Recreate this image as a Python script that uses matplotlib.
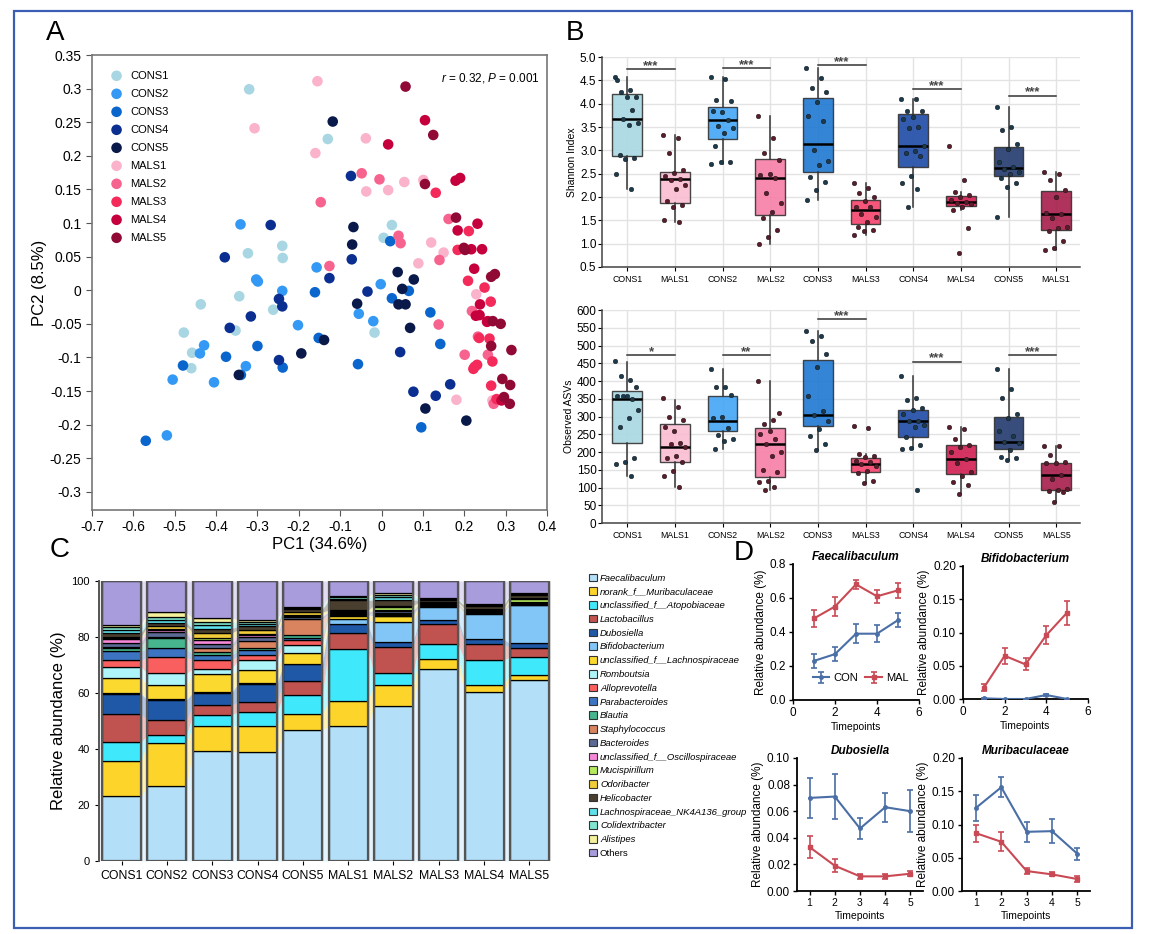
import numpy as np
import matplotlib
matplotlib.use('Agg')
import matplotlib.pyplot as plt
from matplotlib.patches import Patch, Rectangle

plt.rcParams['font.family'] = ['Liberation Sans', 'DejaVu Sans']
plt.rcParams['mathtext.fontset'] = 'custom'
plt.rcParams['mathtext.it'] = 'Liberation Sans:italic'
plt.rcParams['mathtext.rm'] = 'Liberation Sans'

# ---------------- Panel A: PCoA ----------------
pc_groups = ['CONS1', 'CONS2', 'CONS3', 'CONS4', 'CONS5',
             'MALS1', 'MALS2', 'MALS3', 'MALS4', 'MALS5']
pc_colors = ['#a8d6e2', '#3399f5', '#0a66cc', '#0b2f90', '#08194a',
             '#fbb3cb', '#f7638f', '#f42a5a', '#c6003c', '#900a35']
pc1 = [
    [-0.32, -0.13, -0.24, -0.239, -0.323, -0.344, -0.437, -0.262, -0.353, -0.478, -0.458, -0.46, 0.025, 0.005, -0.017],
    [-0.341, -0.303, -0.299, -0.24, -0.157, -0.202, -0.429, -0.439, -0.505, -0.405, -0.519, -0.328, -0.055, -0.02, -0.002],
    [-0.57, -0.48, -0.376, -0.3, -0.239, -0.161, -0.152, -0.057, 0.021, 0.025, 0.066, 0.118, 0.142, 0.096, -0.34],
    [-0.379, -0.268, -0.248, -0.24, -0.316, -0.367, -0.248, -0.126, -0.074, -0.072, -0.034, 0.045, 0.077, 0.131, 0.166],
    [-0.118, -0.068, -0.071, -0.059, 0.039, 0.078, 0.05, 0.041, 0.058, 0.069, -0.194, -0.139, -0.345, 0.106, 0.205],
    [-0.155, -0.307, -0.16, -0.038, -0.037, 0.016, 0.055, 0.101, 0.12, 0.15, 0.089, 0.229, 0.181, 0.268, 0.218],
    [-0.048, -0.005, -0.147, -0.126, 0.041, 0.046, 0.14, 0.162, 0.138, 0.201, 0.271, 0.233, 0.257, 0.219],
    [0.131, 0.211, 0.184, 0.209, 0.249, 0.264, 0.236, 0.261, 0.225, 0.231, 0.268, 0.265, 0.278, 0.222],
    [0.105, 0.016, 0.179, 0.19, 0.184, 0.232, 0.243, 0.217, 0.224, 0.237, 0.255, 0.29, 0.228, 0.238, 0.257],
    [0.058, 0.125, 0.105, 0.18, 0.199, 0.202, 0.274, 0.265, 0.269, 0.288, 0.265, 0.314, 0.292, 0.311, 0.296, 0.31],
]
pc2 = [
    [0.299, 0.225, 0.066, 0.048, 0.055, -0.009, -0.021, -0.029, -0.06, -0.063, -0.093, -0.116, 0.097, 0.078, -0.063],
    [0.098, 0.016, 0.013, -0.001, 0.034, -0.052, -0.082, -0.094, -0.133, -0.137, -0.216, -0.113, -0.035, -0.046, 0.009],
    [-0.224, -0.112, -0.099, -0.083, -0.115, -0.003, -0.071, -0.11, 0.073, -0.012, -0.001, -0.033, -0.08, -0.204, -0.126],
    [0.049, 0.097, -0.013, -0.024, -0.039, -0.056, -0.104, 0.018, 0.17, 0.046, -0.002, -0.092, -0.151, -0.157, -0.14],
    [0.251, 0.094, 0.068, -0.02, 0.027, 0.016, 0.002, -0.021, -0.021, -0.056, -0.094, -0.074, -0.126, -0.176, -0.194],
    [0.311, 0.241, 0.204, 0.226, 0.147, 0.149, 0.161, 0.164, 0.071, 0.056, 0.04, -0.006, -0.163, -0.164, -0.031],
    [0.174, 0.165, 0.131, 0.036, 0.081, 0.07, 0.045, 0.106, -0.051, -0.096, -0.169, -0.069, -0.096, -0.031],
    [0.145, 0.088, 0.06, 0.014, 0.004, -0.017, -0.071, -0.072, -0.114, -0.111, -0.106, -0.142, -0.162, -0.117],
    [0.253, 0.217, 0.163, 0.167, 0.089, 0.099, 0.061, 0.061, 0.032, -0.037, -0.047, -0.164, -0.038, -0.021, -0.046],
    [0.303, 0.231, 0.158, 0.108, 0.063, 0.06, 0.024, 0.02, -0.046, -0.05, -0.083, -0.089, -0.132, -0.141, -0.159, -0.169],
]

# ---------------- Panel B: alpha diversity ----------------
b_labels_top = ['CONS1', 'MALS1', 'CONS2', 'MALS2', 'CONS3', 'MALS3', 'CONS4', 'MALS4', 'CONS5', 'MALS1']
b_labels_bot = ['CONS1', 'MALS1', 'CONS2', 'MALS2', 'CONS3', 'MALS3', 'CONS4', 'MALS4', 'CONS5', 'MALS5']
b_colors = ['#a9d8e2', '#fbbdd2', '#42a5f5', '#f77fa6', '#1f78d3',
            '#f5436c', '#1d4aa6', '#d21e52', '#233a6e', '#a61d4a']

shannon_pts = [
    [4.58, 4.30, 4.26, 4.15, 4.15, 4.51, 3.87, 3.67, 3.58, 3.55, 2.90, 2.83, 2.81, 2.49, 2.18],
    [3.33, 3.26, 2.94, 2.58, 2.51, 2.44, 2.39, 2.36, 2.26, 2.18, 1.91, 1.83, 1.79, 1.51, 1.47],
    [4.57, 4.53, 4.07, 4.05, 3.83, 3.85, 3.65, 3.52, 3.47, 3.38, 3.09, 2.76, 2.74, 2.71],
    [3.73, 3.26, 2.94, 2.79, 2.49, 2.47, 2.40, 2.08, 1.88, 1.68, 1.54, 1.30, 1.15, 1.00],
    [4.76, 4.55, 4.33, 4.26, 4.03, 3.74, 3.62, 3.01, 2.78, 2.69, 2.42, 2.33, 2.15, 1.93],
    [2.29, 2.20, 2.08, 2.01, 1.91, 1.79, 1.78, 1.63, 1.58, 1.47, 1.35, 1.30, 1.28, 1.18],
    [4.10, 4.10, 3.85, 3.85, 3.72, 3.68, 3.50, 3.47, 3.10, 2.99, 2.94, 2.87, 2.44, 2.31, 2.18, 1.79],
    [3.10, 2.36, 2.11, 2.04, 2.01, 1.93, 1.90, 1.88, 1.85, 1.79, 1.73, 1.33, 0.81],
    [3.93, 3.50, 3.44, 3.14, 3.02, 2.75, 2.65, 2.61, 2.54, 2.49, 2.40, 2.29, 2.22, 1.57],
    [2.54, 2.49, 2.36, 2.16, 2.01, 1.66, 1.63, 1.54, 1.36, 1.33, 1.28, 1.06, 0.90, 0.86],
]
shannon_lo = [2.18, 1.47, 2.71, 1.00, 1.93, 1.18, 1.79, 1.73, 1.57, 0.86]
shannon_q1 = [2.88, 1.88, 3.24, 1.61, 2.54, 1.42, 2.65, 1.81, 2.44, 1.30]
shannon_med = [3.67, 2.38, 3.65, 2.40, 3.14, 1.73, 3.10, 1.90, 2.63, 1.63]
shannon_q3 = [4.20, 2.54, 3.93, 2.81, 4.13, 1.93, 3.78, 2.02, 3.07, 2.13]
shannon_hi = [4.58, 3.33, 4.57, 3.73, 4.77, 2.29, 4.10, 2.11, 3.93, 2.54]
shannon_sig_y = [4.74, 4.76, 4.82, 4.31, 4.17]
shannon_sig = ['***', '***', '***', '***', '***']

asv_pts = [
    [456, 402, 415, 382, 358, 357, 349, 357, 319, 295, 270, 182, 173, 166, 132],
    [352, 326, 298, 289, 260, 270, 225, 223, 215, 189, 182, 173, 146, 133, 102],
    [434, 382, 382, 361, 298, 295, 269, 249, 238, 232, 209],
    [399, 289, 279, 309, 258, 251, 237, 223, 200, 189, 149, 144, 117, 116, 102, 92],
    [541, 526, 512, 475, 439, 358, 315, 305, 286, 264, 246, 223, 206],
    [274, 269, 193, 189, 185, 175, 173, 166, 161, 146, 142, 118, 114],
    [413, 352, 347, 324, 317, 308, 286, 288, 276, 270, 242, 220, 210, 208, 94],
    [270, 264, 236, 220, 215, 201, 179, 170, 144, 132, 116, 107, 81],
    [434, 377, 352, 308, 295, 258, 246, 229, 225, 206, 187, 182, 177],
    [217, 217, 192, 173, 170, 168, 135, 123, 97, 94, 90, 86, 58],
]
asv_lo = [132, 102, 209, 92, 206, 114, 208, 81, 177, 58]
asv_q1 = [225, 171, 258, 130, 274, 144, 242, 138, 209, 94]
asv_med = [350, 215, 287, 223, 305, 166, 286, 179, 229, 135]
asv_q3 = [371, 278, 357, 269, 458, 184, 317, 219, 300, 170]
asv_hi = [453, 347, 434, 399, 541, 193, 413, 270, 434, 217]
asv_sig_y = [473, 473, 574, 454, 473]
asv_sig = ['*', '**', '***', '***', '***']

# ---------------- Panel C: stacked composition ----------------
c_samples = ['CONS1', 'CONS2', 'CONS3', 'CONS4', 'CONS5',
             'MALS1', 'MALS2', 'MALS3', 'MALS4', 'MALS5']
taxa = ['Faecalibaculum', 'norank_f__Muribaculaceae', 'unclassified_f__Atopobiaceae',
        'Lactobacillus', 'Dubosiella', 'Bifidobacterium', 'unclassified_f__Lachnospiraceae',
        'Romboutsia', 'Alloprevotella', 'Parabacteroides', 'Blautia', 'Staphylococcus',
        'Bacteroides', 'unclassified_f__Oscillospiraceae', 'Mucispirillum', 'Odoribacter',
        'Helicobacter', 'Lachnospiraceae_NK4A136_group', 'Colidextribacter', 'Alistipes', 'Others']
taxa_colors = ['#b3dff9', '#fdd52a', '#3fe9fb', '#c0524f', '#2058a8', '#82c6f7', '#fcd92e',
               '#aef5fa', '#f95f5f', '#3c74c2', '#47b68e', '#d9835f', '#5b6a94', '#f589d8',
               '#b6ea5d', '#f0cc3a', '#4a3f2f', '#5fe0ea', '#80e6d0', '#f5f09c', '#a99cdc']
# rows: taxa, columns: samples (percent)
abund = np.array([
    [23.1, 26.7, 39.3, 38.8, 46.9, 48.1, 55.2, 68.7, 60.4, 64.5],
    [12.6, 15.6, 8.9, 9.4, 5.7, 9.0, 7.5, 3.6, 2.6, 1.8],
    [6.8, 2.7, 4.1, 5.0, 6.8, 18.6, 4.4, 5.1, 8.7, 6.6],
    [9.9, 5.3, 3.3, 3.6, 4.8, 5.7, 9.3, 7.4, 5.9, 3.3],
    [7.2, 7.2, 4.5, 6.5, 6.0, 3.4, 1.8, 1.2, 1.6, 1.5],
    [0.3, 0.2, 0.2, 0.3, 0.3, 1.5, 7.2, 4.7, 8.9, 13.6],
    [5.5, 5.0, 6.6, 4.5, 3.8, 1.3, 2.0, 0.3, 0.3, 0.3],
    [3.9, 4.3, 1.8, 3.8, 2.7, 0.3, 0.2, 0.1, 0.1, 0.1],
    [2.4, 5.8, 3.0, 1.6, 1.8, 0.1, 0.2, 0.1, 0.1, 0.1],
    [3.2, 3.2, 1.8, 1.7, 0.8, 0.2, 0.3, 0.2, 0.2, 0.2],
    [1.3, 3.6, 1.2, 1.0, 1.2, 0.2, 0.2, 0.1, 0.1, 0.1],
    [0.3, 0.3, 1.3, 2.5, 5.5, 0.1, 0.2, 0.1, 0.1, 0.1],
    [1.5, 1.8, 1.5, 1.3, 1.0, 0.3, 0.8, 0.3, 0.4, 0.3],
    [1.3, 0.7, 1.6, 0.8, 0.3, 0.1, 0.3, 0.1, 0.1, 0.1],
    [0.3, 0.4, 0.4, 0.3, 0.3, 0.3, 1.0, 0.1, 0.2, 0.8],
    [0.5, 1.2, 2.0, 1.5, 1.0, 0.4, 0.6, 0.3, 0.3, 0.5],
    [1.5, 1.0, 1.5, 1.2, 1.0, 3.5, 2.0, 0.8, 1.2, 1.1],
    [1.0, 1.2, 1.2, 0.8, 0.3, 0.6, 1.0, 0.3, 0.3, 0.3],
    [0.8, 1.0, 1.2, 0.8, 0.3, 0.5, 0.8, 0.2, 0.2, 0.2],
    [1.0, 1.6, 1.4, 0.8, 0.3, 0.3, 0.6, 0.1, 0.1, 0.2],
    [15.6, 11.2, 13.2, 13.8, 9.2, 5.5, 4.4, 6.2, 8.2, 4.3],
])

# ---------------- Panel D: time courses ----------------
timepoints = [1, 2, 3, 4, 5]
d_titles = ['Faecalibaculum', 'Bifidobacterium', 'Dubosiella', 'Muribaculaceae']
con_mean = [[0.23, 0.27, 0.39, 0.39, 0.47],
            [0.001, 0.0, 0.0, 0.006, 0.0],
            [0.070, 0.071, 0.047, 0.063, 0.060],
            [0.125, 0.156, 0.089, 0.090, 0.056]]
con_err = [[0.04, 0.04, 0.055, 0.05, 0.04],
           [0.001, 0.0, 0.0, 0.002, 0.0],
           [0.015, 0.017, 0.008, 0.011, 0.016],
           [0.019, 0.015, 0.015, 0.018, 0.009]]
mal_mean = [[0.48, 0.55, 0.68, 0.61, 0.645],
            [0.017, 0.065, 0.052, 0.096, 0.130],
            [0.033, 0.019, 0.011, 0.011, 0.013],
            [0.087, 0.074, 0.030, 0.025, 0.018]]
mal_err = [[0.05, 0.055, 0.025, 0.04, 0.045],
           [0.005, 0.012, 0.009, 0.014, 0.018],
           [0.008, 0.005, 0.002, 0.002, 0.002],
           [0.013, 0.014, 0.005, 0.003, 0.004]]

W, H = 1153, 934
fig = plt.figure(figsize=(W / 100, H / 100), dpi=100)
fig.patch.set_facecolor('white')


def px_axes(left, top, right, bottom):
    return fig.add_axes([left / W, 1 - bottom / H, (right - left) / W, (bottom - top) / H])


def fmt(v, nd):
    v = round(v, nd)
    if abs(v) < 1e-9:
        return '0'
    return f'{v:g}'

# ---- A ----
axA = px_axes(92, 55, 547, 510)
for g, xs, ys, c in zip(pc_groups, pc1, pc2, pc_colors):
    axA.scatter(xs, ys, s=58, color=c, edgecolors='none', label=g, zorder=3)
axA.set_xlim(-0.7, 0.4)
axA.set_ylim(-0.327, 0.35)
xt = np.arange(-0.7, 0.41, 0.1)
axA.set_xticks(xt)
axA.set_xticklabels([fmt(v, 2) for v in xt])
yt = np.arange(-0.3, 0.351, 0.05)
axA.set_yticks(yt)
axA.set_yticklabels([fmt(v, 2) for v in yt])
axA.tick_params(labelsize=10, length=4, color='#555')
for s in axA.spines.values():
    s.set_color('#777')
    s.set_linewidth(1.2)
axA.set_xlabel('PC1 (34.6%)', fontsize=12, labelpad=2)
axA.set_ylabel('PC2 (8.5%)', fontsize=12, labelpad=2)
axA.text(0.985, 0.965, r'$\it{r}$ = 0.32, $\it{P}$ = 0.001', transform=axA.transAxes,
         ha='right', va='top', fontsize=8.5)
axA.legend(loc='upper left', bbox_to_anchor=(0.01, 0.985), frameon=False, fontsize=8,
           labelspacing=0.72, handletextpad=0.2, borderpad=0.3)

# ---- B ----
def box_panel(ax, pts, lo, q1, med, q3, hi, sig_y, sig, labels, ylim, yticks, ylabel, yfmt, sig_off):
    pos = np.arange(len(pts))
    stats = [dict(med=m, q1=a, q3=b, whislo=l, whishi=h, fliers=[])
             for l, a, m, b, h in zip(lo, q1, med, q3, hi)]
    bp = ax.bxp(stats, positions=pos, widths=0.62, patch_artist=True, showfliers=False,
                medianprops=dict(color='black', lw=1.8),
                whiskerprops=dict(color='#333', lw=1.1),
                capprops=dict(lw=0), boxprops=dict(edgecolor='#333', lw=1.0))
    for patch, c in zip(bp['boxes'], b_colors):
        patch.set_facecolor(c)
        patch.set_alpha(0.9)
    for i, vals in enumerate(pts):
        n = len(vals)
        offs = ((np.arange(n) * 0.618) % 1 - 0.5) * 0.5
        dot = '#1c3a4c' if i % 2 == 0 else '#5a1d2c'
        ax.scatter(pos[i] + offs, vals, s=11, color=dot, edgecolors='#111', linewidths=0.3, zorder=4)
    for k, (y, t) in enumerate(zip(sig_y, sig)):
        ax.plot([2 * k, 2 * k + 1], [y, y], color='#333', lw=1.1)
        ax.text(2 * k + 0.5, y + sig_off, t, ha='center', va='bottom', fontsize=9.5,
                fontweight='bold', color='#444')
    ax.set_xlim(-0.53, 9.5)
    ax.set_ylim(*ylim)
    ax.set_yticks(yticks)
    ax.set_yticklabels([yfmt.format(v) for v in yticks])
    ax.set_xticks(pos)
    ax.set_xticklabels(labels, fontsize=6.3)
    ax.tick_params(axis='y', labelsize=8.5, length=3, pad=1)
    ax.tick_params(axis='x', length=3, pad=3)
    ax.grid(True, color='#e3e3e3', lw=1.0, zorder=0)
    ax.set_axisbelow(True)
    for s in ['top', 'right']:
        ax.spines[s].set_visible(False)
    for s in ['left', 'bottom']:
        ax.spines[s].set_color('#444')
        ax.spines[s].set_linewidth(1.1)
    ax.set_ylabel(ylabel, fontsize=7.5, labelpad=2)


axB1 = px_axes(602, 57, 1080, 267)
box_panel(axB1, shannon_pts, shannon_lo, shannon_q1, shannon_med, shannon_q3, shannon_hi,
          shannon_sig_y, shannon_sig, b_labels_top, (0.5, 5.0), np.arange(0.5, 5.01, 0.5),
          'Shannon Index', '{:.1f}', -0.06)
axB2 = px_axes(602, 310, 1080, 523)
box_panel(axB2, asv_pts, asv_lo, asv_q1, asv_med, asv_q3, asv_hi,
          asv_sig_y, asv_sig, b_labels_bot, (0, 600), np.arange(0, 601, 50),
          'Observed ASVs', '{:.0f}', -8)

# ---- C ----
axC = px_axes(99, 581, 552, 861)
xc = np.arange(len(c_samples))
bw = 0.86
tops = np.cumsum(abund, axis=0)
bots = tops - abund
for k in range(len(taxa)):
    axC.bar(xc, abund[k], bottom=bots[k], width=bw, color=taxa_colors[k],
            edgecolor='black', linewidth=0.9, zorder=3)
    for i in range(len(xc) - 1):
        axC.fill_between([xc[i] + bw / 2, xc[i + 1] - bw / 2],
                         [bots[k, i], bots[k, i + 1]], [tops[k, i], tops[k, i + 1]],
                         color=taxa_colors[k], alpha=0.35, lw=0, zorder=1)
axC.bar(xc, tops[-1], width=bw, fill=False, edgecolor='#555', linewidth=1.6, zorder=4)
axC.set_xlim(-0.5, 9.5)
axC.set_ylim(0, 100)
axC.set_yticks(np.arange(0, 101, 20))
axC.set_xticks(xc)
axC.set_xticklabels(c_samples, fontsize=8.8)
axC.tick_params(axis='y', labelsize=8, length=3)
axC.tick_params(axis='x', length=3)
for s in ['top', 'right']:
    axC.spines[s].set_visible(False)
axC.spines['bottom'].set_visible(False)
axC.spines['left'].set_color('#555')
axC.spines['left'].set_linewidth(1.4)
axC.set_ylabel('Relative abundance (%)', fontsize=12, labelpad=4)
handles = [Patch(facecolor=c, edgecolor='#333', linewidth=0.8) for c in taxa_colors]
legC = fig.legend(handles, taxa, loc='upper left', bbox_to_anchor=(583 / W, 1 - 568 / H),
                  frameon=False, handlelength=0.85, handleheight=0.85,
                  handletextpad=0.35, labelspacing=0.5, borderpad=0.1,
                  prop=dict(style='italic', size=6.8))
legC.get_texts()[-1].set_style('normal')

# ---- D ----
d_boxes = [(793, 564, 919, 700), (963, 566, 1088, 699), (797, 758, 923, 891), (962, 758, 1090, 891)]
d_ylims = [(0, 0.8, 0.2, '{:.1f}'), (0, 0.2, 0.05, '{:.2f}'), (0, 0.1, 0.02, '{:.2f}'), (0, 0.2, 0.05, '{:.2f}')]
con_col = '#4a6ea6'
mal_col = '#c94a55'
for j in range(4):
    ax = px_axes(*d_boxes[j])
    ax.errorbar(timepoints, con_mean[j], yerr=con_err[j], color=con_col, marker='o', ms=2.5,
                lw=1.5, capsize=2, elinewidth=1.2, capthick=1.2, label='CON', zorder=3)
    ax.errorbar(timepoints, mal_mean[j], yerr=mal_err[j], color=mal_col, marker='s', ms=3,
                lw=1.5, capsize=2, elinewidth=1.2, capthick=1.2, label='MAL', zorder=3)
    y0, y1, st, yf = d_ylims[j]
    ax.set_ylim(y0, y1)
    yt = np.arange(y0, y1 + st / 2, st)
    ax.set_yticks(yt)
    ax.set_yticklabels([yf.format(v) for v in yt])
    if j < 2:
        ax.set_xlim(0, 6)
        ax.set_xticks([0, 2, 4, 6])
    else:
        ax.set_xlim(0.5 if j == 2 else 0.45, 5.5)
        ax.set_xticks(timepoints)
    for s in ['top', 'right']:
        ax.spines[s].set_visible(False)
    for s in ['left', 'bottom']:
        ax.spines[s].set_linewidth(1.3)
    ax.tick_params(labelsize=8.5 if j < 2 else 7.5, length=3, width=1, pad=2)
    ax.tick_params(axis='y', labelsize=8.5)
    ax.set_title(d_titles[j], fontsize=8.5, fontweight='bold', style='italic', pad=3)
    ax.set_xlabel('Timepoints', fontsize=7.5, labelpad=2)
    ax.set_ylabel('Relative abundance (%)', fontsize=8.5, labelpad=2)
    if j == 0:
        ax.legend(loc='lower right', ncol=2, frameon=False, fontsize=8, handlelength=1.5,
                  columnspacing=0.6, handletextpad=0.4, bbox_to_anchor=(1.0, 0.05))

# panel letters
for lab, x, y in [('A', 55, 33), ('B', 575, 33), ('C', 60, 550), ('D', 744, 553)]:
    fig.text(x / W, 1 - y / H, lab, fontsize=20, ha='center', va='center')

fig.add_artist(Rectangle((14 / W, 1 - 928 / H), (1132 - 14) / W, (928 - 11) / H,
                         transform=fig.transFigure, fill=False, edgecolor='#3c5db4', lw=1.6))

fig.savefig('out.png', dpi=100, facecolor='white')
